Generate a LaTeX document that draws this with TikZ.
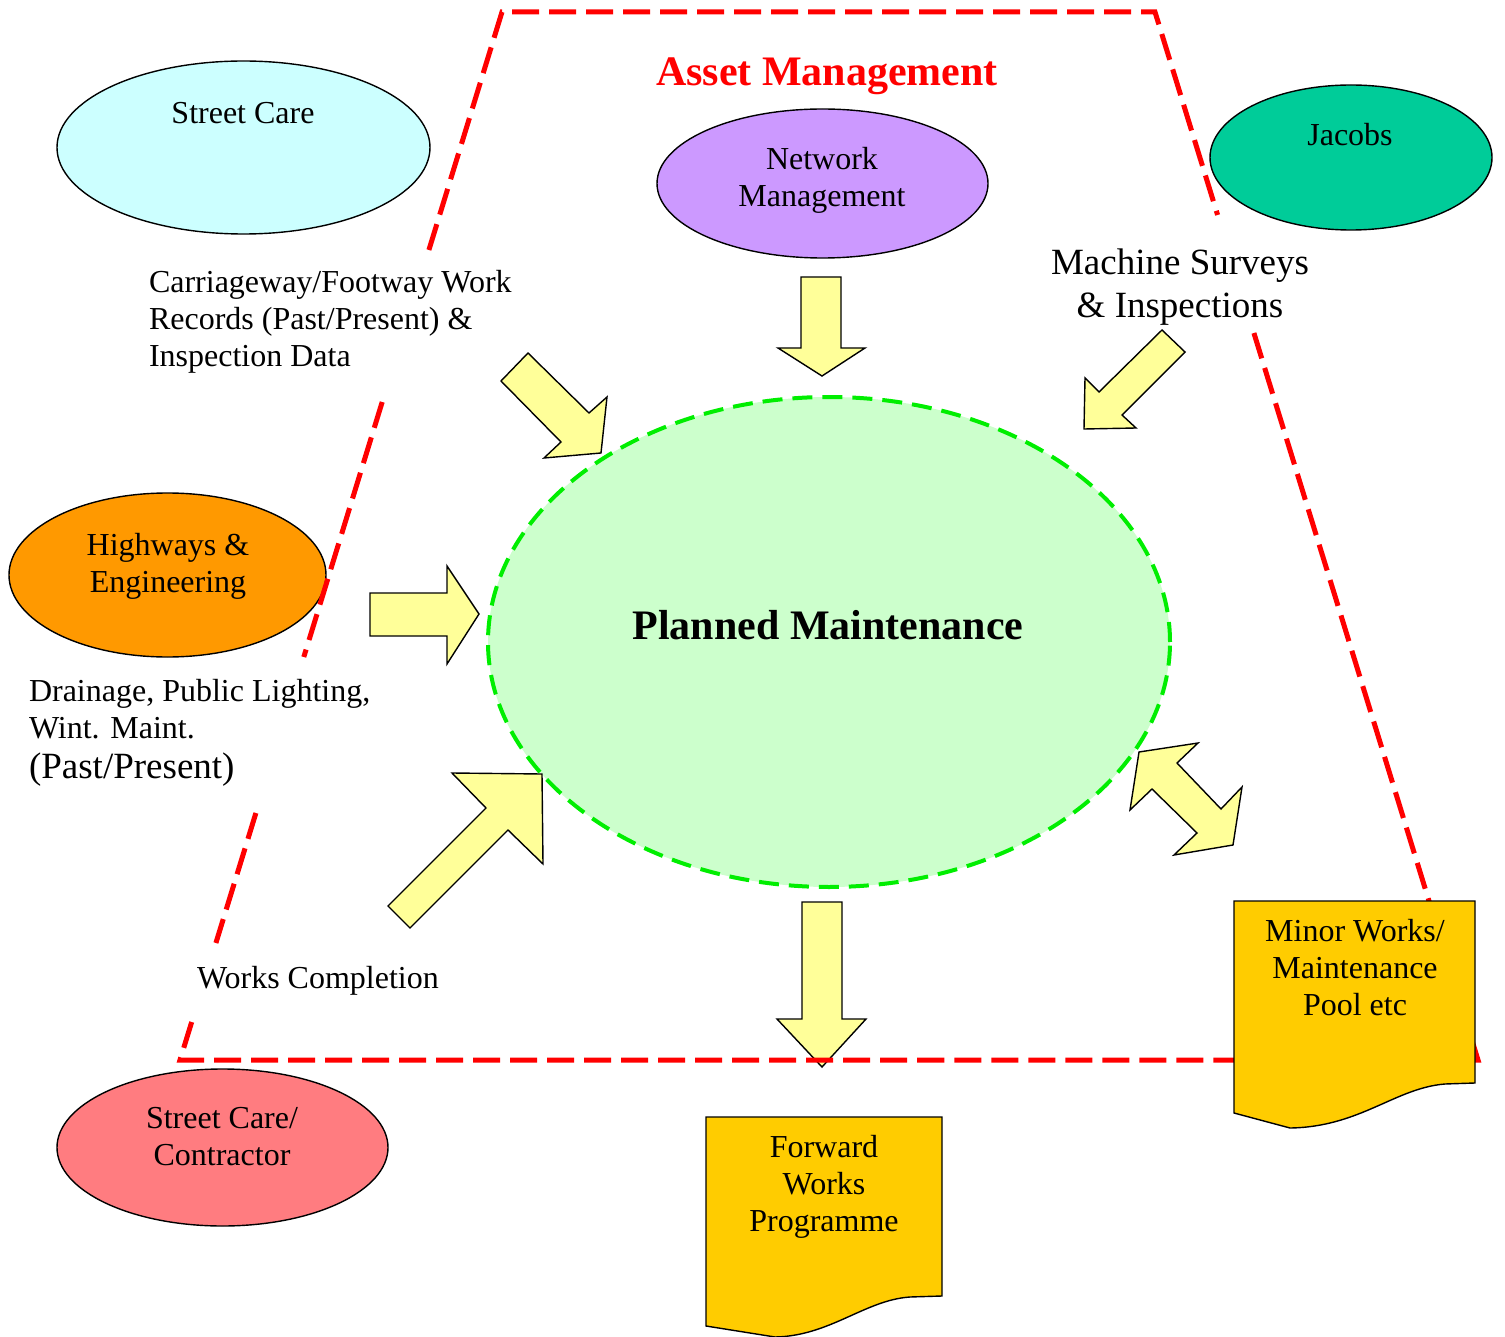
\documentclass[tikz,border=0pt]{standalone}
\usepackage{fontspec}
\setmainfont{Liberation Serif}
\usetikzlibrary{shapes.geometric}
\definecolor{cStreet}{HTML}{CCFFFF}
\definecolor{cNetwork}{HTML}{CC99FF}
\definecolor{cJacobs}{HTML}{00CC99}
\definecolor{cHighways}{HTML}{FF9900}
\definecolor{cContractor}{HTML}{FF7C80}
\definecolor{cPlanned}{HTML}{CCFFCC}
\definecolor{cPlannedLine}{HTML}{00EE00}
\definecolor{cDoc}{HTML}{FFCC00}
\definecolor{cArrow}{HTML}{FFFF99}
\begin{document}
\begin{tikzpicture}[x=1pt,y=-1pt,
  every node/.style={inner sep=0pt, outer sep=0pt, font=\fontsize{32}{37}\selectfont},
  oval/.style={ellipse, draw=black, line width=1.4pt, inner sep=0pt},
  blockarrow/.style={fill=cArrow, draw=black, line width=1.4pt, line join=miter},
  boundary/.style={draw=red, line width=5pt, dash pattern=on 27pt off 10pt},
  docshape/.style={fill=cDoc, draw=black, line width=1.4pt},
  bigfont/.style={font=\fontsize{37}{43}\selectfont},
  titlefont/.style={font=\bfseries\fontsize{42}{48}\selectfont}
]
\useasboundingbox (0,0) rectangle (1505,1337);

% ovals
\node[oval, fill=cStreet, minimum width=373pt, minimum height=173pt] (streetcare) at (243.5,147.5) {};
\node[oval, fill=cNetwork, minimum width=331pt, minimum height=149pt] (network) at (822.5,183.5) {};
\node[oval, fill=cJacobs, minimum width=282pt, minimum height=145pt] (jacobs) at (1351,157.5) {};
\node[oval, fill=cHighways, minimum width=317pt, minimum height=164pt] (highways) at (167.5,575) {};
\node[oval, fill=cContractor, minimum width=331pt, minimum height=157pt] (contractor) at (222.5,1147.5) {};
\node[ellipse, fill=cPlanned, draw=cPlannedLine, line width=4pt, dash pattern=on 20pt off 10pt,
      minimum width=682pt, minimum height=490pt] (planned) at (829,642) {};

% block arrows
\draw[blockarrow] (801,277) -- (841,277) -- (841,348) -- (865,348) -- (822,376) -- (778,348) -- (801,348) -- cycle;
\draw[blockarrow] (802,902) -- (842,902) -- (842,1019) -- (866,1019) -- (822,1067) -- (777,1019) -- (802,1019) -- cycle;
\draw[blockarrow] (370,593) -- (447,593) -- (447,566) -- (479,614) -- (447,664) -- (447,636) -- (370,636) -- cycle;
\draw[blockarrow] (528,353) -- (589,413) -- (607,397) -- (601,453) -- (544,458) -- (561,442) -- (501,381) -- cycle;
\draw[blockarrow] (1162,330) -- (1185,352) -- (1122,415) -- (1136,428) -- (1084,429) -- (1085,378) -- (1099,392) -- cycle;
\draw[blockarrow] (1139,752) -- (1198,743) -- (1177,763) -- (1221,809) -- (1242,787) -- (1233,845) -- (1174,855) -- (1197,833) -- (1152,789) -- (1130,810) -- cycle;
\draw[blockarrow] (410,928) -- (508,830) -- (543,864) -- (542,774) -- (452,773) -- (486,808) -- (388,906) -- cycle;

% asset management boundary
\draw[boundary] (428.9,250) -- (502,12) -- (1155,12) -- (1217.6,215);
\draw[boundary] (382.2,402) -- (303.8,657);
\draw[boundary] (255.9,813) -- (215.9,943);
\draw[boundary] (191.7,1022) -- (180,1060) -- (1478,1060) -- (1253.9,333);

% texts
\node[titlefont, text=red] (assettitle) at (827,76) {Asset Management};
\node (streetcaretext) at (243,113) {Street Care};
\node[align=center] (networktext) at (822,180) {Network\\Management};
\node (jacobstext) at (1350,135) {Jacobs};
\node[align=left, anchor=west] (carriagewaytext) at (149,322) {Carriageway/Footway Work\\Records (Past/Present) \&\\Inspection Data};
\node[align=center, bigfont] (machinetext) at (1180,287) {Machine Surveys\\\& Inspections};
\node[titlefont] (plannedtext) at (828,625) {Planned Maintenance};
\node[align=center] (highwaystext) at (168,566) {Highways \&\\Engineering};
\node[align=left, anchor=west] (drainagetext) at (29,733) {Drainage, Public Lighting,\\Wint. Maint.\\[3pt]{\fontsize{37}{43}\selectfont (Past/Present)}};
\node[anchor=west] (workstext) at (197,981) {Works Completion};
\node[align=center] (contractortext) at (222,1137) {Street Care/\\Contractor};

% documents
\draw[docshape] (1234,901) -- (1475,901) -- (1475,1083) -- (1445,1084)
  .. controls (1395,1088) and (1360,1127) .. (1290,1128) -- (1234,1113) -- cycle;
\node[align=center] (minortext) at (1355,968) {Minor Works/\\Maintenance\\Pool etc};
\draw[docshape] (706,1117) -- (942,1117) -- (942,1296) -- (910,1297)
  .. controls (865,1300) and (830,1336) .. (775,1337) -- (706,1326) -- cycle;
\node[align=center] (forwardtext) at (824,1187) {Forward\\Works\\Programme};
\end{tikzpicture}
\end{document}
